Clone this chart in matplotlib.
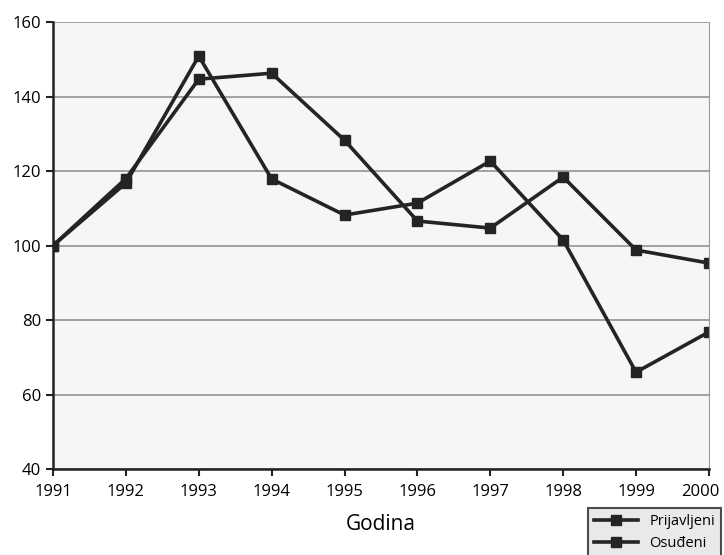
import numpy as np
import matplotlib.pyplot as plt
import matplotlib.transforms as mtransforms

godine = [1991, 1992, 1993, 1994, 1995, 1996, 1997, 1998, 1999, 2000]
prijavljeni = [100, 118.0, 144.7, 146.3, 128.3, 106.6, 104.7, 118.4, 98.8, 95.3]
osudeni = [100, 116.8, 150.9, 117.9, 108.2, 111.4, 122.7, 101.5, 66.0, 76.8]

plt.rcParams['font.family'] = ['Open Sans', 'DejaVu Sans']

fig = plt.figure(figsize=(7.24, 5.55), dpi=100)
ax = fig.add_axes([0.0732, 0.155, 0.906, 0.805])
ax.set_facecolor('#f6f6f6')

ax.plot(godine, prijavljeni, color='#242424', lw=2.6, marker='s', ms=7, label='Prijavljeni')
ax.plot(godine, osudeni, color='#242424', lw=2.6, marker='s', ms=7, label='Osuđeni')

ax.set_xlim(1991, 2000)
ax.set_ylim(40, 160)
ax.set_xticks(godine)
ax.set_yticks(range(40, 161, 20))
ax.yaxis.grid(True, color='#8a8a8a', lw=1.1)
ax.set_axisbelow(True)
ax.tick_params(axis='both', labelsize=12, length=5, width=1.5, color='#222')
ax.tick_params(axis='x', pad=6)

# last year label sits a bit left so it stays inside the picture
lab = ax.get_xticklabels()[-1]
lab.set_transform(lab.get_transform() + mtransforms.ScaledTranslation(-6/72, 0, fig.dpi_scale_trans))

for s in ['left', 'bottom']:
    ax.spines[s].set_linewidth(1.8)
    ax.spines[s].set_color('#222')
ax.spines['right'].set_color('#999')
ax.spines['top'].set_visible(False)

ax.set_xlabel('Godina', fontsize=15, labelpad=10)

leg = fig.legend(loc='upper left', bbox_to_anchor=(588/724, 1 - 508/555), fontsize=10.5,
                 frameon=True, fancybox=False, edgecolor='#222', facecolor='#e4e4e4',
                 handlelength=3.0, borderaxespad=0)
leg.get_frame().set_linewidth(1.5)

fig.savefig('out.png', dpi=100)
